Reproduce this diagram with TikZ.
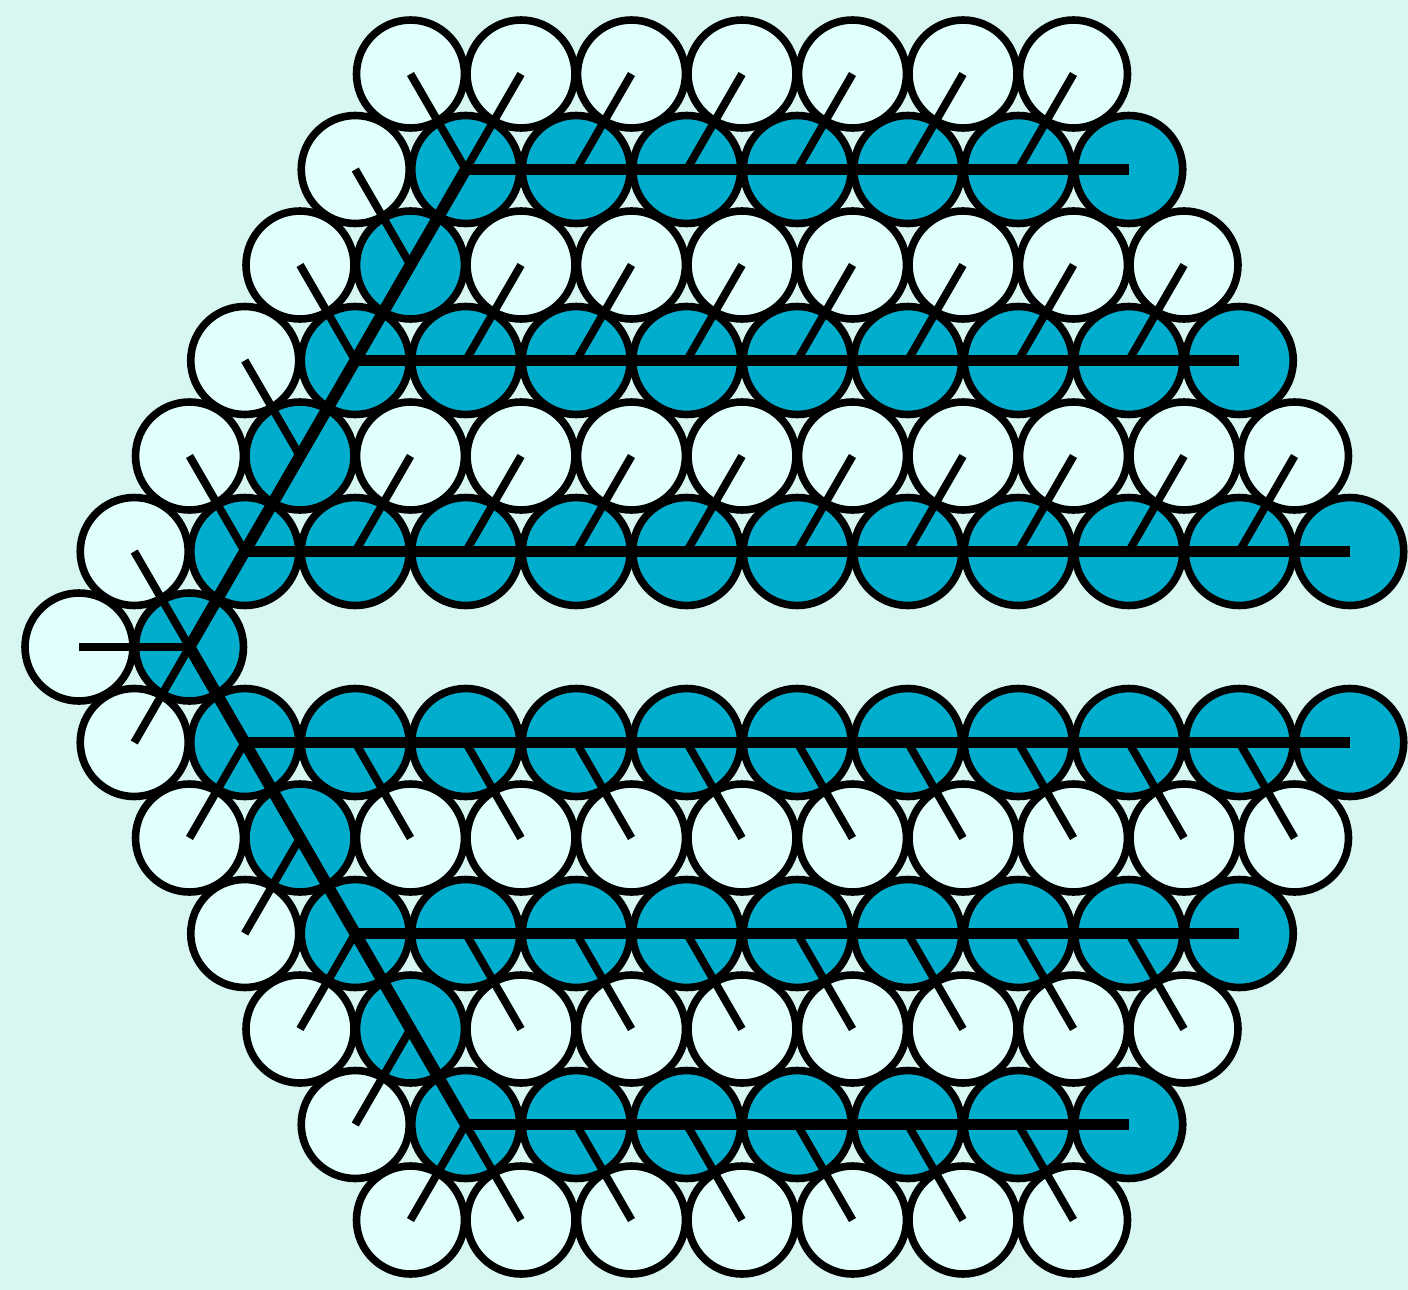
\documentclass[tikz,border=0pt]{standalone}
\definecolor{bgc}{HTML}{D8F7F3}
\definecolor{lightc}{HTML}{E0FFFD}
\definecolor{darkc}{HTML}{00ADCC}
\begin{document}
\begin{tikzpicture}[x=0.5pt,y=-0.5pt,
  ball/.style={circle,draw=black,line width=3.8pt,minimum size=54pt,inner sep=0pt},
  bond/.style={line width=4pt,line cap=butt},
  chain/.style={line width=5.8pt,line cap=butt}]
\fill[bgc] (0,0) rectangle (1408,1290);
\useasboundingbox (0,0) rectangle (1408,1290);
% balls
\foreach \r in {0,...,12}{
  \pgfmathtruncatemacro{\a}{abs(\r-6)}
  \pgfmathtruncatemacro{\n}{\a==0 ? 1 : 12-\a}
  \pgfmathsetmacro{\xo}{79+55.25*\a}
  \pgfmathsetmacro{\yy}{74+95.5*\r}
  \foreach \i in {0,...,\n}{
    \pgfmathtruncatemacro{\dk}{(\i>0)*max(mod(\r,2),(\i==1)*(\a<6))}
    \ifnum\dk=1 \def\fc{darkc}\else\def\fc{lightc}\fi
    \node[ball,fill=\fc] (c\r-\i) at ({\xo+110.5*\i},\yy) {};
  }
}
% thin bonds: first column
\foreach \r in {0,...,5}{
  \pgfmathtruncatemacro{\s}{\r+1}
  \draw[bond] (c\r-0.center) -- (c\s-1.center);
}
\foreach \r in {7,...,12}{
  \pgfmathtruncatemacro{\s}{\r-1}
  \draw[bond] (c\r-0.center) -- (c\s-1.center);
}
\draw[bond] (c6-0.center) -- (c6-1.center);
% thin bonds: light rows
\foreach \i in {1,...,6}{
  \draw[bond] (c0-\i.center) -- (c1-\i.center);
  \draw[bond] (c12-\i.center) -- (c11-\i.center);
}
\foreach \i in {2,...,8}{
  \draw[bond] (c2-\i.center) -- (c3-\i.center);
  \draw[bond] (c10-\i.center) -- (c9-\i.center);
}
\foreach \i in {2,...,10}{
  \draw[bond] (c4-\i.center) -- (c5-\i.center);
  \draw[bond] (c8-\i.center) -- (c7-\i.center);
}
% thick chains
\draw[chain] (c1-1.center) -- (c1-7.center);
\draw[chain] (c11-1.center) -- (c11-7.center);
\draw[chain] (c3-1.center) -- (c3-9.center);
\draw[chain] (c9-1.center) -- (c9-9.center);
\draw[chain] (c5-1.center) -- (c5-11.center);
\draw[chain] (c7-1.center) -- (c7-11.center);
\draw[chain] (c1-1.center) -- (c2-1.center) -- (c3-1.center) -- (c4-1.center)
  -- (c5-1.center) -- (c6-1.center) -- (c7-1.center) -- (c8-1.center)
  -- (c9-1.center) -- (c10-1.center) -- (c11-1.center);
\end{tikzpicture}
\end{document}
